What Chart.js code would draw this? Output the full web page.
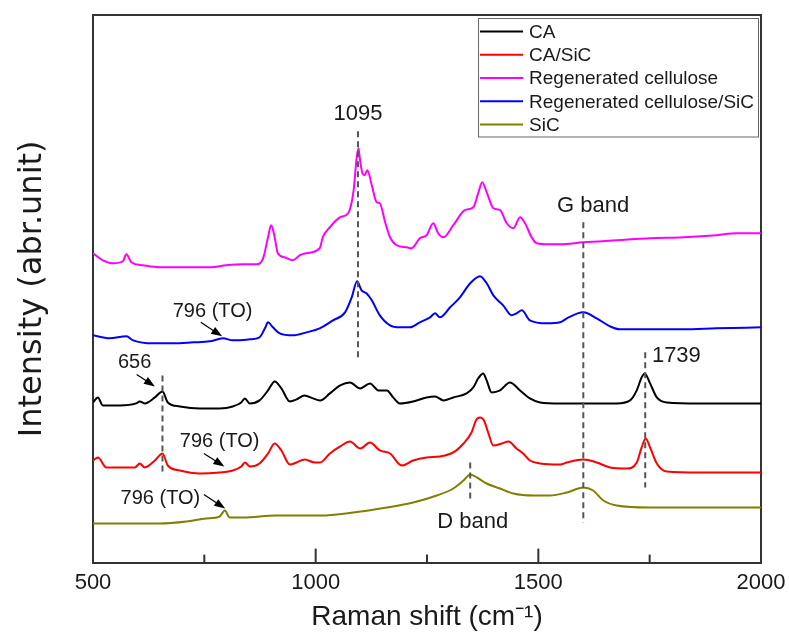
<!DOCTYPE html>
<html>
<head>
<meta charset="utf-8">
<script src="https://cdn.jsdelivr.net/npm/chart.js@4.4.1/dist/chart.umd.min.js"></script>
<style>
    html, body { margin: 0; padding: 0; background: #fff; }
    #wrap { width: 789px; height: 635px; }
</style>
</head>
<body>
<div id="wrap"><canvas id="chart" width="789" height="635"></canvas></div>
<script>
// Raman spectra, values (intensity in arbitrary units)
const seriesNames = ["CA", "CA/SiC", "Regenerated cellulose", "Regenerated cellulose/SiC", "SiC"];

const caShift = [500,511,522,560,597,605,616,639,656,668,695,740,784,814,833,841,852,874,893,908,923,942,957,975,994,1010,1032,1055,1077,1100,1122,1141,1160,1174,1189,1219,1249,1268,1287,1309,1339,1354,1365,1376,1384,1395,1414,1436,1459,1481,1504,1549,1601,1676,1706,1721,1732,1739,1751,1766,1788,1863,2000];
const caIntensity = [151,156,148,148,150,152,150,156,162,151,147,145,145,147,151,155,150,153,163,172,165,152,154,158,155,153,160,168,171,165,170,163,163,156,150,152,156,157,153,156,160,166,175,180,173,161,163,171,163,155,151,150,150,150,153,163,176,180,170,156,151,150,150];

const caSicShift = [500,511,530,560,594,605,616,639,656,668,695,740,784,814,833,841,852,874,893,908,923,942,957,975,998,1010,1032,1055,1077,1100,1122,1144,1167,1193,1219,1249,1279,1309,1332,1350,1361,1369,1378,1388,1399,1418,1433,1451,1466,1481,1504,1549,1564,1601,1631,1661,1698,1721,1732,1741,1751,1766,1788,1863,2000];
const caSicIntensity = [93,96,86,86,86,90,86,93,100,88,83,80,81,83,87,91,87,90,100,110,103,89,91,94,91,91,100,107,112,105,111,103,100,88,93,96,97,101,110,121,134,136,133,120,108,110,112,105,100,93,90,89,91,94,91,86,85,91,106,115,106,90,82,81,81];

const rcShift = [500,522,545,567,575,586,612,650,687,725,762,799,837,867,882,893,900,908,915,930,949,964,979,1009,1016,1032,1055,1073,1085,1092,1096,1100,1105,1110,1116,1126,1137,1144,1156,1167,1182,1204,1215,1234,1249,1264,1275,1287,1309,1335,1354,1365,1374,1384,1399,1414,1429,1444,1459,1470,1485,1496,1526,1549,1601,1676,1751,1826,1900,1945,2000];
const rcIntensity = [300,293,290,292,299,291,288,286,286,286,286,288,289,289,295,316,328,316,300,296,293,298,300,305,316,326,336,340,362,395,405,392,380,378,383,368,351,350,331,316,308,306,305,315,318,330,320,316,328,343,346,360,371,361,345,343,330,325,336,330,316,310,309,309,311,313,315,316,318,320,320];

const rcSicShift = [500,537,575,590,635,680,725,762,792,814,852,874,886,893,904,919,949,979,1009,1039,1066,1081,1093,1103,1114,1126,1144,1167,1189,1212,1234,1257,1268,1279,1302,1324,1347,1369,1384,1399,1421,1440,1451,1463,1481,1519,1549,1564,1601,1631,1661,1683,1751,1826,1900,2000];
const rcSicIntensity = [218,215,217,213,210,210,211,212,215,213,214,216,225,231,226,220,218,221,225,233,241,256,272,263,260,253,238,228,226,226,231,236,240,236,246,256,270,277,270,258,248,238,240,243,233,230,231,235,241,235,227,224,224,224,225,226];

const sicShift = [500,575,650,710,754,784,796,807,837,912,987,1010,1085,1160,1219,1272,1309,1332,1347,1362,1384,1414,1444,1489,1526,1564,1601,1623,1646,1676,1751,1863,2000];
const sicIntensity = [30,30,30,32,35,37,43,36,36,38,38,38,41,46,51,58,65,73,79,76,70,65,60,58,58,61,66,63,53,48,46,46,46];

const seriesColors = ["#000000", "#ff0000", "#ff00ff", "#0000ff", "#808000"];

// x axis
const xRange = [500, 2000];
const tickLabels = [500, 1000, 1500, 2000];
const minorTicks = [750, 1250, 1750];

// marked peaks: shift and extent of the dashed guide (intensity units)
const peakShift = [1095, 1601, 656, 1740, 1347];
const peakFrom = [196, 31, 81, 66, 51];
const peakTo = [422, 331, 178, 201, 91];

// annotation texts, anchored in data units
const noteText = ["1095", "G band", "1739", "656", "796 (TO)", "796 (TO)", "796 (TO)", "D band"];
const noteShift = [1095, 1542, 1755, 556, 679, 695, 562, 1273];
const noteIntensity = [433, 341, 191, 185, 236, 106, 50, 26];

// arrows (tail -> head) in data units
const arrowFrom = [[598, 179], [742, 231], [749, 100], [749, 59]];
const arrowTo = [[639, 167], [790, 217], [795, 87], [797, 45]];

function toPoints(xs, ys) {
    return xs.map((x, i) => ({ x: x, y: ys[i] }));
}

const textFont = "'Liberation Sans', Arial, sans-serif";

// inward tick marks on the bottom axis
const tickMarks = {
    id: 'tickMarks',
    afterDraw(chart) {
        const ctx = chart.ctx;
        const x = chart.scales.x;
        const bottom = chart.chartArea.bottom;
        ctx.save();
        ctx.strokeStyle = '#333';
        ctx.lineWidth = 2;
        tickLabels.forEach(v => {
            const px = x.getPixelForValue(v);
            ctx.beginPath();
            ctx.moveTo(px, bottom);
            ctx.lineTo(px, bottom - 14);
            ctx.stroke();
        });
        minorTicks.forEach(v => {
            const px = x.getPixelForValue(v);
            ctx.beginPath();
            ctx.moveTo(px, bottom);
            ctx.lineTo(px, bottom - 8);
            ctx.stroke();
        });
        ctx.restore();
    }
};

// dashed peak guides, labels and arrows
const peakNotes = {
    id: 'peakNotes',
    afterDatasetsDraw(chart) {
        const ctx = chart.ctx;
        const x = chart.scales.x;
        const y = chart.scales.y;
        ctx.save();

        ctx.strokeStyle = '#555';
        ctx.lineWidth = 2;
        ctx.setLineDash([6, 4]);
        peakShift.forEach((s, i) => {
            const px = x.getPixelForValue(s);
            ctx.beginPath();
            ctx.moveTo(px, y.getPixelForValue(peakTo[i]));
            ctx.lineTo(px, y.getPixelForValue(peakFrom[i]));
            ctx.stroke();
        });
        ctx.setLineDash([]);

        ctx.fillStyle = '#1a1a1a';
        ctx.textBaseline = 'alphabetic';
        noteText.forEach((t, i) => {
            const small = t === '656' || t === '796 (TO)';
            ctx.font = (small ? 20 : 22) + 'px ' + textFont;
            ctx.textAlign = t === '1095' ? 'center' : 'left';
            ctx.fillText(t, x.getPixelForValue(noteShift[i]), y.getPixelForValue(noteIntensity[i]));
        });

        ctx.strokeStyle = '#000';
        ctx.fillStyle = '#000';
        ctx.lineWidth = 1.2;
        arrowFrom.forEach((a, i) => {
            const x0 = x.getPixelForValue(a[0]), y0 = y.getPixelForValue(a[1]);
            const x1 = x.getPixelForValue(arrowTo[i][0]), y1 = y.getPixelForValue(arrowTo[i][1]);
            const ang = Math.atan2(y1 - y0, x1 - x0);
            ctx.beginPath();
            ctx.moveTo(x0, y0);
            ctx.lineTo(x1 - 8 * Math.cos(ang), y1 - 8 * Math.sin(ang));
            ctx.stroke();
            ctx.beginPath();
            ctx.moveTo(x1, y1);
            ctx.lineTo(x1 - 11 * Math.cos(ang) + 4 * Math.sin(ang), y1 - 11 * Math.sin(ang) - 4 * Math.cos(ang));
            ctx.lineTo(x1 - 11 * Math.cos(ang) - 4 * Math.sin(ang), y1 - 11 * Math.sin(ang) + 4 * Math.cos(ang));
            ctx.closePath();
            ctx.fill();
        });
        ctx.restore();
    }
};

// boxed legend in the top right corner
const legendBox = {
    id: 'legendBox',
    afterDraw(chart) {
        const ctx = chart.ctx;
        const area = chart.chartArea;
        const sets = chart.data.datasets;
        ctx.save();
        ctx.font = '19px ' + textFont;
        let maxW = 0;
        sets.forEach(d => { maxW = Math.max(maxW, ctx.measureText(d.label).width); });
        const rowH = 23.3;
        const w = 51 + maxW + 4;
        const h = rowH * sets.length + 2;
        const left = area.right - 3 - w;
        const top = area.top + 3;

        ctx.fillStyle = '#fff';
        ctx.fillRect(left, top, w, h);
        ctx.strokeStyle = '#666';
        ctx.lineWidth = 1;
        ctx.strokeRect(left + 0.5, top + 0.5, w, h);

        ctx.textAlign = 'left';
        ctx.textBaseline = 'middle';
        sets.forEach((d, i) => {
            const cy = top + 13.4 + i * rowH;
            ctx.strokeStyle = d.borderColor;
            ctx.lineWidth = 2;
            ctx.beginPath();
            ctx.moveTo(left + 2, cy);
            ctx.lineTo(left + 45, cy);
            ctx.stroke();
            ctx.fillStyle = '#1a1a1a';
            ctx.fillText(d.label, left + 51, cy + 1);
        });
        ctx.restore();
    }
};

function drawChart() {
    const shifts = [caShift, caSicShift, rcShift, rcSicShift, sicShift];
    const values = [caIntensity, caSicIntensity, rcIntensity, rcSicIntensity, sicIntensity];

    const datasets = seriesNames.map((name, i) => {
        return {
            label: name,
            data: toPoints(shifts[i], values[i]),
            borderColor: seriesColors[i],
            backgroundColor: seriesColors[i],
            borderWidth: 2,
            pointRadius: 0,
            fill: false,
            cubicInterpolationMode: 'monotone'
        };
    });

    new Chart(document.getElementById('chart'), {
        type: 'line',
        data: { datasets: datasets },
        options: {
            responsive: false,
            animation: false,
            devicePixelRatio: 1,
            layout: { padding: { left: 17, right: 28, top: 15, bottom: 0 } },
            plugins: {
                legend: { display: false },
                tooltip: { enabled: false }
            },
            scales: {
                x: {
                    type: 'linear',
                    position: 'bottom',
                    min: xRange[0],
                    max: xRange[1],
                    afterBuildTicks: (scale) => { scale.ticks = tickLabels.map(v => ({ value: v })); },
                    afterFit: (scale) => { scale.paddingRight = 0; },
                    grid: { display: false, drawTicks: false },
                    border: { display: true, color: '#333', width: 2 },
                    ticks: {
                        autoSkip: false,
                        maxRotation: 0,
                        padding: 7,
                        color: '#1a1a1a',
                        callback: (v) => String(v),
                        font: { family: textFont, size: 22, lineHeight: 1.2 }
                    },
                    title: {
                        display: true,
                        text: 'Raman shift (cm\u207B\u00B9)',
                        color: '#1a1a1a',
                        font: { family: textFont, size: 28, lineHeight: 1.0 },
                        padding: { top: 0, bottom: 4 }
                    }
                },
                x2: {
                    type: 'linear',
                    position: 'top',
                    min: xRange[0],
                    max: xRange[1],
                    grid: { display: false, drawTicks: false },
                    border: { display: true, color: '#333', width: 2 },
                    ticks: { display: false }
                },
                y: {
                    min: -9,
                    max: 538,
                    grid: { display: false, drawTicks: false },
                    border: { display: true, color: '#333', width: 2 },
                    ticks: { display: false },
                    title: {
                        display: true,
                        text: 'Intensity (abr.unit)',
                        color: '#1a1a1a',
                        font: { family: "'DejaVu Sans', sans-serif", size: 32, lineHeight: 1.0 },
                        padding: { top: 0, bottom: 44 }
                    }
                },
                y2: {
                    position: 'right',
                    min: -9,
                    max: 538,
                    grid: { display: false, drawTicks: false },
                    border: { display: true, color: '#333', width: 2 },
                    ticks: { display: false }
                }
            }
        },
        plugins: [tickMarks, peakNotes, legendBox]
    });
}

drawChart();
</script>
</body>
</html>
